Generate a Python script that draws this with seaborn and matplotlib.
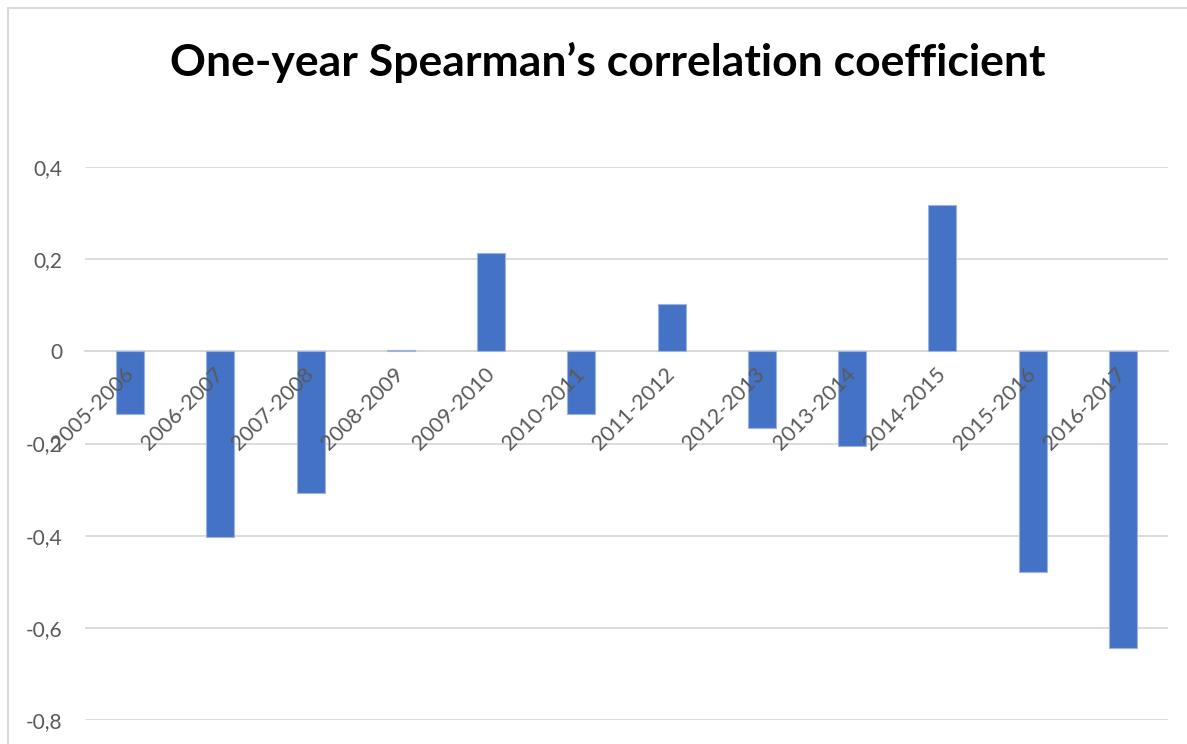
import matplotlib
matplotlib.use("Agg")
import matplotlib.pyplot as plt
import seaborn as sns
import pandas as pd
from matplotlib.patches import Rectangle

periods = ["2005-2006", "2006-2007", "2007-2008", "2008-2009", "2009-2010", "2010-2011",
           "2011-2012", "2012-2013", "2013-2014", "2014-2015", "2015-2016", "2016-2017"]
coefficients = [-0.137, -0.402, -0.308, 0.002, 0.214, -0.135,
                0.102, -0.167, -0.205, 0.318, -0.479, -0.644]
y_ticks = [-0.8, -0.6, -0.4, -0.2, 0, 0.2, 0.4]
y_tick_labels = ["-0,8", "-0,6", "-0,4", "-0,2", "0", "0,2", "0,4"]
title = "One-year Spearman\u2019s correlation coefficient"

df = pd.DataFrame({"period": periods, "coef": coefficients})

sns.set_theme(style="white")
plt.rcParams["font.family"] = ["Lato", "DejaVu Sans"]

W, H = 1187, 744
fig = plt.figure(figsize=(W / 100, H / 100), dpi=100)
ax = fig.add_axes([85 / W, 1 - 720 / H, (1168 - 85) / W, (720 - 167) / H])

sns.barplot(data=df, x="period", y="coef", color="#4472C4", saturation=1,
            width=0.31, edgecolor="#9DB4E0", linewidth=0.8, ax=ax, zorder=2)

ax.set_xlim(-0.5, len(periods) - 0.5)
ax.set_ylim(-0.8, 0.4)
ax.set_yticks(y_ticks)
ax.set_yticklabels(y_tick_labels)
ax.yaxis.grid(True, color="#D9D9D9", linewidth=1.3)
ax.xaxis.grid(False)
ax.yaxis.set_zorder(0.5)
ax.xaxis.set_zorder(4)
for s in ["left", "right", "top"]:
    ax.spines[s].set_visible(False)
ax.spines["bottom"].set_position(("data", 0))
ax.spines["bottom"].set_color("#D9D9D9")
ax.spines["bottom"].set_linewidth(1.3)
ax.spines["bottom"].set_zorder(1)
ax.set_xlabel("")
ax.set_ylabel("")
ax.tick_params(axis="y", length=0, pad=16.5, labelsize=15, labelcolor="#595959")
ax.tick_params(axis="x", length=0, pad=14, labelsize=15.5, labelcolor="#595959")
for lbl in ax.get_xticklabels():
    lbl.set_rotation(45)
    lbl.set_ha("right")
    lbl.set_va("center")
    lbl.set_rotation_mode("anchor")

fig.text(607.5 / W, 1 - 62 / H, title, ha="center", va="center", fontsize=32,
         fontweight="bold", color="black")

fig.add_artist(Rectangle((8 / W, -0.2), 1.5, 1.2 - 8 / H, transform=fig.transFigure,
                         fill=False, edgecolor="#D9D9D9", linewidth=1.5))

fig.savefig("out.png", dpi=100, facecolor="white")
